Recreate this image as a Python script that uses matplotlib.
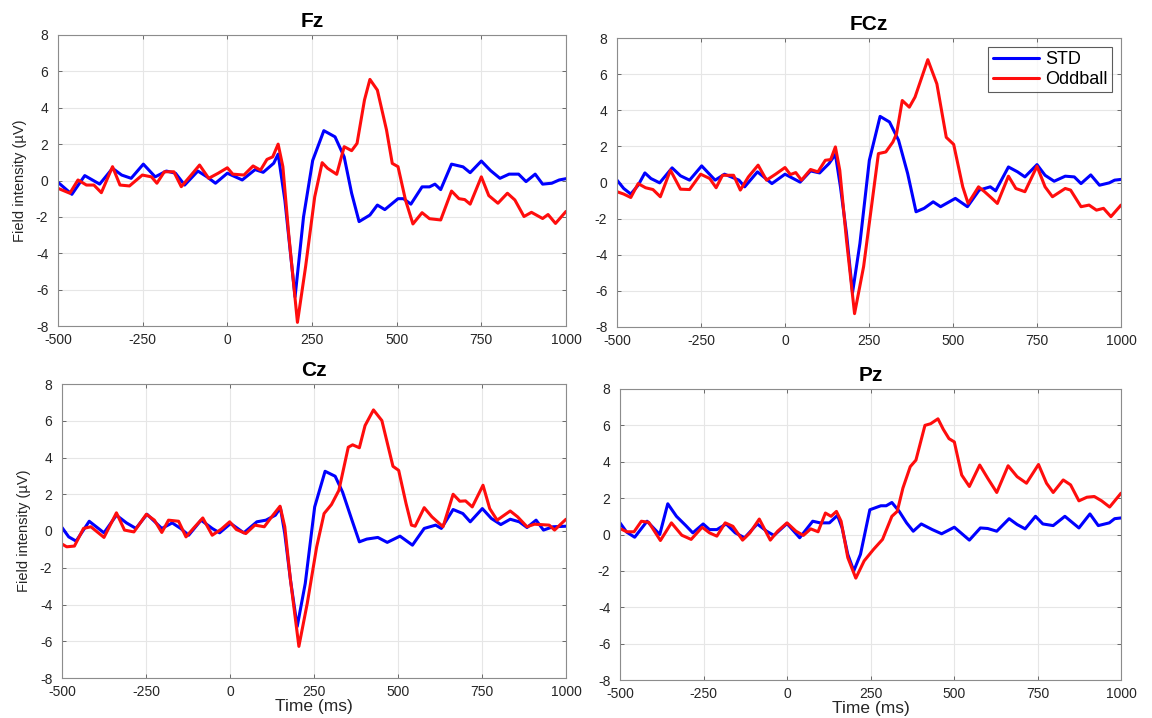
import matplotlib
matplotlib.use("Agg")
import matplotlib.pyplot as plt

plt.rcParams['font.family'] = ['Liberation Sans', 'DejaVu Sans']
plt.rcParams['axes.unicode_minus'] = False

# ---------------- data (time in ms, amplitude in µV) ----------------
fz_std_t = [-500, -459, -421, -377, -339, -312, -284, -248, -213, -180, -153, -126, -87, -60, -35, 0, 44, 82, 106, 137, 150, 170, 200, 225, 252, 285, 318, 345, 367, 389, 421, 443, 465, 504, 520, 542, 575, 597, 613, 630, 662, 696, 717, 750, 777, 805, 832, 860, 882, 909, 931, 958, 980, 1000]
fz_std_v = [-0.1, -0.76, 0.27, -0.2, 0.67, 0.3, 0.12, 0.9, 0.2, 0.52, 0.4, -0.25, 0.52, 0.2, -0.15, 0.4, 0.03, 0.6, 0.45, 0.95, 1.45, -1.1, -6.4, -2.0, 1.1, 2.74, 2.4, 1.3, -0.7, -2.26, -1.9, -1.35, -1.6, -1.0, -1.0, -1.3, -0.35, -0.35, -0.2, -0.5, 0.9, 0.75, 0.43, 1.07, 0.55, 0.12, 0.35, 0.35, -0.06, 0.35, -0.2, -0.15, 0.03, 0.1]
fz_odd_t = [-500, -465, -441, -416, -394, -372, -339, -317, -289, -251, -224, -208, -186, -158, -136, -109, -82, -55, -27, 0, 16, 49, 76, 98, 117, 134, 150, 164, 181, 207, 231, 258, 280, 296, 323, 345, 367, 383, 405, 421, 443, 470, 487, 504, 526, 548, 575, 597, 630, 662, 684, 701, 717, 750, 772, 799, 827, 849, 876, 898, 931, 947, 969, 1000]
fz_odd_v = [-0.43, -0.7, 0.03, -0.25, -0.25, -0.67, 0.76, -0.25, -0.3, 0.3, 0.2, -0.15, 0.48, 0.48, -0.34, 0.25, 0.85, 0.12, 0.4, 0.7, 0.35, 0.3, 0.8, 0.57, 1.16, 1.3, 2.0, 0.76, -2.9, -7.8, -4.75, -0.9, 0.98, 0.67, 0.34, 1.86, 1.64, 2.04, 4.43, 5.56, 4.97, 2.78, 0.94, 0.76, -1.07, -2.39, -1.77, -2.1, -2.17, -0.58, -1.0, -1.05, -1.3, 0.2, -0.83, -1.25, -0.7, -1.07, -1.98, -1.75, -2.09, -1.87, -2.36, -1.7]

fcz_std_t = [-500, -480, -459, -437, -417, -399, -373, -336, -311, -284, -248, -208, -180, -137, -120, -82, -39, 0, 45, 76, 103, 131, 150, 165, 183, 201, 223, 251, 283, 311, 338, 365, 390, 414, 441, 463, 507, 543, 578, 611, 627, 665, 692, 714, 750, 774, 801, 834, 861, 881, 910, 936, 965, 981, 1000]
fcz_std_v = [0.13, -0.33, -0.64, -0.15, 0.53, 0.22, -0.02, 0.81, 0.37, 0.13, 0.92, 0.13, 0.46, 0.13, -0.24, 0.59, -0.06, 0.46, 0.02, 0.64, 0.53, 1.05, 1.56, -0.24, -2.81, -6.1, -3.37, 1.23, 3.66, 3.35, 2.34, 0.5, -1.62, -1.43, -1.07, -1.34, -0.88, -1.34, -0.42, -0.24, -0.46, 0.86, 0.59, 0.31, 0.99, 0.4, 0.07, 0.35, 0.31, -0.06, 0.42, -0.15, -0.02, 0.13, 0.17]
fcz_odd_t = [-500, -480, -459, -437, -415, -393, -371, -341, -311, -284, -251, -224, -205, -186, -153, -133, -109, -80, -55, -28, 0, 16, 32, 49, 76, 98, 120, 136, 150, 163, 183, 207, 234, 256, 278, 300, 321, 332, 349, 370, 387, 425, 452, 480, 502, 529, 545, 576, 594, 616, 632, 665, 687, 714, 750, 774, 796, 834, 850, 881, 905, 927, 948, 970, 1000]
fcz_odd_v = [-0.51, -0.64, -0.83, -0.06, -0.29, -0.39, -0.79, 0.68, -0.37, -0.39, 0.46, 0.22, -0.29, 0.4, 0.4, -0.42, 0.31, 0.96, 0.13, 0.46, 0.83, 0.44, 0.55, 0.13, 0.72, 0.59, 1.23, 1.27, 1.97, 0.68, -3.18, -7.26, -4.65, -1.53, 1.6, 1.69, 2.24, 2.7, 4.54, 4.17, 4.73, 6.8, 5.46, 2.5, 2.11, -0.24, -1.16, -0.24, -0.51, -0.88, -1.16, 0.35, -0.33, -0.51, 0.9, -0.24, -0.79, -0.33, -0.42, -1.34, -1.25, -1.53, -1.43, -1.89, -1.25]

cz_std_t = [-500, -480, -458, -419, -375, -338, -308, -280, -247, -203, -172, -147, -123, -86, -53, -31, 2, 41, 80, 107, 135, 150, 163, 180, 200, 224, 252, 283, 313, 335, 363, 385, 407, 440, 468, 506, 543, 578, 612, 629, 664, 693, 715, 751, 778, 806, 834, 861, 884, 911, 933, 961, 1000]
cz_std_v = [0.19, -0.32, -0.55, 0.53, -0.1, 0.86, 0.44, 0.14, 0.91, 0.14, 0.44, 0.14, -0.23, 0.59, 0.14, -0.1, 0.41, -0.1, 0.5, 0.59, 0.86, 1.26, -0.14, -2.67, -5.2, -2.85, 1.31, 3.25, 2.98, 2.12, 0.59, -0.59, -0.44, -0.35, -0.62, -0.28, -0.77, 0.14, 0.32, 0.14, 1.17, 0.95, 0.5, 1.22, 0.68, 0.35, 0.64, 0.5, 0.19, 0.59, 0.05, 0.23, 0.26]
cz_odd_t = [-500, -486, -463, -436, -414, -375, -338, -314, -286, -249, -225, -203, -183, -153, -131, -109, -81, -53, -26, -1, 19, 47, 74, 102, 124, 149, 163, 180, 205, 230, 258, 280, 302, 324, 352, 365, 385, 402, 427, 452, 485, 502, 524, 540, 551, 578, 601, 634, 664, 684, 701, 721, 753, 773, 795, 834, 856, 884, 906, 950, 966, 983, 1000]
cz_odd_v = [-0.71, -0.86, -0.82, 0.14, 0.23, -0.35, 0.99, 0.05, -0.05, 0.91, 0.59, -0.08, 0.59, 0.53, -0.32, 0.14, 0.71, -0.23, 0.1, 0.5, 0.08, -0.14, 0.32, 0.23, 0.77, 1.35, 0.23, -2.67, -6.28, -3.93, -0.86, 0.95, 1.44, 2.21, 4.56, 4.69, 4.53, 5.74, 6.59, 6.01, 3.52, 3.3, 1.49, 0.32, 0.26, 1.27, 0.77, 0.23, 2.0, 1.62, 1.64, 1.31, 2.49, 1.22, 0.59, 1.09, 0.77, 0.23, 0.37, 0.32, 0.05, 0.35, 0.64]

pz_std_t = [-500, -480, -456, -419, -381, -357, -331, -304, -282, -251, -232, -210, -182, -155, -127, -89, -61, -39, 0, 38, 77, 99, 127, 151, 165, 182, 200, 220, 248, 281, 297, 314, 336, 358, 378, 402, 435, 463, 501, 546, 579, 601, 628, 665, 689, 713, 744, 766, 797, 832, 874, 907, 932, 965, 981, 1000]
pz_std_v = [0.64, 0.13, -0.15, 0.73, 0.0, 1.69, 1.0, 0.51, 0.09, 0.58, 0.27, 0.27, 0.58, 0.09, -0.18, 0.58, 0.18, -0.05, 0.6, -0.18, 0.73, 0.64, 0.64, 1.05, 0.36, -1.09, -2.0, -1.09, 1.36, 1.58, 1.58, 1.76, 1.27, 0.64, 0.18, 0.58, 0.27, 0.04, 0.4, -0.31, 0.36, 0.33, 0.18, 0.87, 0.55, 0.31, 1.0, 0.58, 0.49, 1.0, 0.36, 1.13, 0.49, 0.64, 0.87, 0.91]
pz_odd_t = [-500, -480, -458, -436, -414, -379, -346, -315, -287, -254, -232, -210, -185, -162, -133, -111, -83, -50, -28, 0, 27, 49, 71, 93, 115, 132, 148, 162, 182, 206, 231, 259, 286, 314, 330, 347, 369, 386, 413, 430, 452, 468, 485, 501, 523, 546, 577, 601, 628, 662, 689, 717, 753, 777, 797, 827, 849, 874, 898, 920, 942, 966, 1000]
pz_odd_v = [0.33, 0.15, 0.15, 0.73, 0.67, -0.33, 0.64, -0.04, -0.27, 0.4, 0.09, -0.09, 0.64, 0.45, -0.31, 0.09, 0.85, -0.31, 0.18, 0.64, 0.18, -0.05, 0.31, 0.15, 1.18, 1.0, 1.27, 0.73, -1.27, -2.4, -1.45, -0.82, -0.27, 1.0, 1.27, 2.55, 3.73, 4.09, 6.0, 6.09, 6.36, 5.78, 5.27, 5.09, 3.27, 2.64, 3.82, 3.09, 2.31, 3.78, 3.18, 2.82, 3.85, 2.82, 2.31, 3.0, 2.73, 1.85, 2.05, 2.09, 1.85, 1.51, 2.27]

titles = ["Fz", "FCz", "Cz", "Pz"]
series_names = ["STD", "Oddball"]
x_ticks = [-500, -250, 0, 250, 500, 750, 1000]
y_ticks = [-8, -6, -4, -2, 0, 2, 4, 6, 8]
ylabel_text = "Field intensity (\u00b5V)"
xlabel_text = "Time (ms)"

panels = [
    (fz_std_t, fz_std_v, fz_odd_t, fz_odd_v),
    (fcz_std_t, fcz_std_v, fcz_odd_t, fcz_odd_v),
    (cz_std_t, cz_std_v, cz_odd_t, cz_odd_v),
    (pz_std_t, pz_std_v, pz_odd_t, pz_odd_v),
]

# ---------------- layout (pixel boxes: left, right, top, bottom) ----------------
W, H = 1152, 718
boxes = [(58, 566, 35, 326), (617, 1121, 38, 327), (62, 566, 384, 678), (620, 1121, 389, 680)]

fig = plt.figure(figsize=(W / 100, H / 100), dpi=100)
fig.patch.set_facecolor("white")

for i, (box, data, title) in enumerate(zip(boxes, panels, titles)):
    l, r, t, b = box
    ax = fig.add_axes([l / W, 1 - b / H, (r - l) / W, (b - t) / H])
    st, sv, ot, ov = data
    ax.plot(st, sv, color=(0.0, 0.0, 1.0), lw=2.2, label=series_names[0],
            solid_joinstyle="round", solid_capstyle="round")
    ax.plot(ot, ov, color=(1.0, 0.05, 0.05), lw=2.2, label=series_names[1],
            solid_joinstyle="round", solid_capstyle="round")
    ax.set_xlim(-500, 1000)
    ax.set_ylim(-8, 8)
    ax.set_xticks(x_ticks)
    ax.set_yticks(y_ticks)
    ax.grid(True, color="#e6e6e6", lw=0.8)
    ax.set_axisbelow(True)
    ax.tick_params(direction="in", length=3, width=0.6, colors="#555555",
                   labelcolor="#262626", labelsize=10, top=True, right=True)
    ax.tick_params(axis="y", pad=7)
    ax.tick_params(axis="x", pad=5)
    for sp in ax.spines.values():
        sp.set_color("#8c8c8c")
        sp.set_linewidth(0.8)
    ax.set_title(title, fontsize=15, fontweight="bold", pad=6)
    if i in (0, 2):
        ax.set_ylabel(ylabel_text, fontsize=10.5, color="#262626", labelpad=6)
    if i in (2, 3):
        ax.set_xlabel(xlabel_text, fontsize=12.5, color="#262626", labelpad=0)
    if i == 1:
        leg = ax.legend(loc="upper right", bbox_to_anchor=(0.982, 0.97), fontsize=13,
                        frameon=True, fancybox=False, handlelength=2.6, handletextpad=0.3,
                        borderpad=0.25, labelspacing=0.15, borderaxespad=0)
        leg.get_frame().set_edgecolor("#333333")
        leg.get_frame().set_linewidth(0.8)

fig.savefig("out.png", dpi=100, facecolor="white")
